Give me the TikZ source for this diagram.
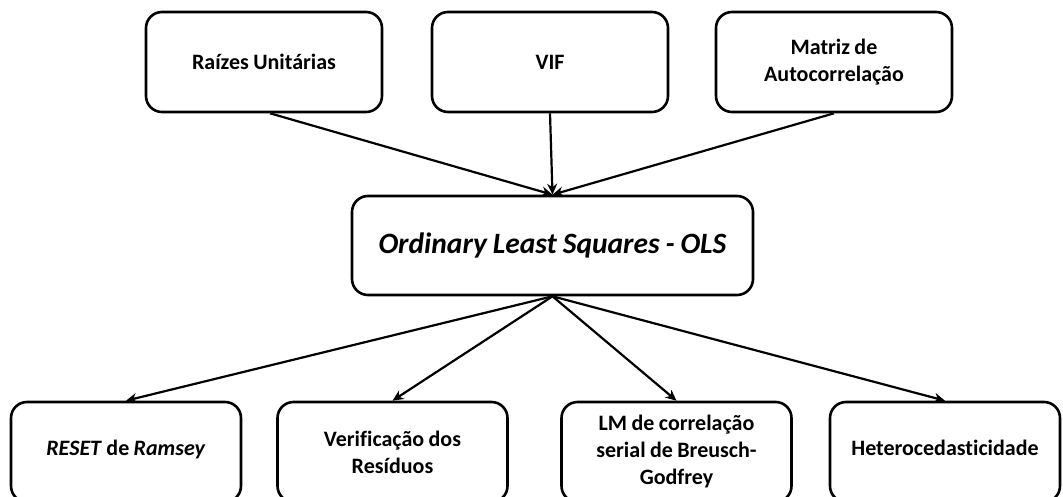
\documentclass[tikz,border=0pt]{standalone}
\usepackage{fontspec}
\setmainfont{Carlito}[Ligatures=NoCommon]
\usetikzlibrary{arrows.meta}
\newcommand\tightsp{\spaceskip=0.2em\relax}
\begin{document}
\begin{tikzpicture}[x=1pt,y=-1pt,
  box/.style={draw=black, line width=2.6pt, rounded corners=16pt, fill=white,
    align=center, inner sep=4pt, font=\fontsize{22}{27}\selectfont\bfseries,
    execute at begin node=\tightsp},
  topbox/.style={box, minimum width=236pt, minimum height=100pt, text width=224pt},
  botbox/.style={box, minimum width=230pt, minimum height=100pt, text width=220pt},
  olsbox/.style={box, minimum width=401pt, minimum height=99pt, text width=390pt,
    font=\fontsize{29.5}{34}\selectfont\bfseries\itshape},
  link/.style={draw=black, line width=2.2pt, -{Stealth[length=11pt,width=10pt]}}
]
\useasboundingbox (0,0) rectangle (1063,497);
\node[topbox] (rai) at (264,62) {Raízes Unitárias};
\node[topbox] (vif) at (550,62) {VIF};
\node[topbox] (mat) at (834,62) {Matriz de\\Autocorrelação};
\node[olsbox] (ols) at (552.5,245.5) {Ordinary Least Squares - OLS};
\node[botbox] (res) at (126,452) {\raisebox{9pt}{\textit{RESET} de \textit{Ramsey}}};
\node[botbox] (ver) at (392.5,452) {\raisebox{7pt}{\parbox{220pt}{\centering Verificação dos\\Resíduos}}};
\node[botbox] (lm) at (676.5,452) {\raisebox{6pt}{\parbox{220pt}{\centering LM de correlação\\serial de Breusch-\\Godfrey}}};
\node[botbox] (het) at (945,452) {\raisebox{9pt}{Heterocedasticidade}};
\coordinate (raiS) at ([xshift=6pt]rai.south);
\draw[link] (raiS) -- (ols.north);
\draw[link] (vif.south) -- (ols.north);
\draw[link] (mat.south) -- (ols.north);
\draw[link] (ols.south) -- (res.north);
\draw[link] (ols.south) -- (ver.north);
\draw[link] (ols.south) -- (lm.north);
\draw[link] (ols.south) -- (het.north);
\end{tikzpicture}
\end{document}
